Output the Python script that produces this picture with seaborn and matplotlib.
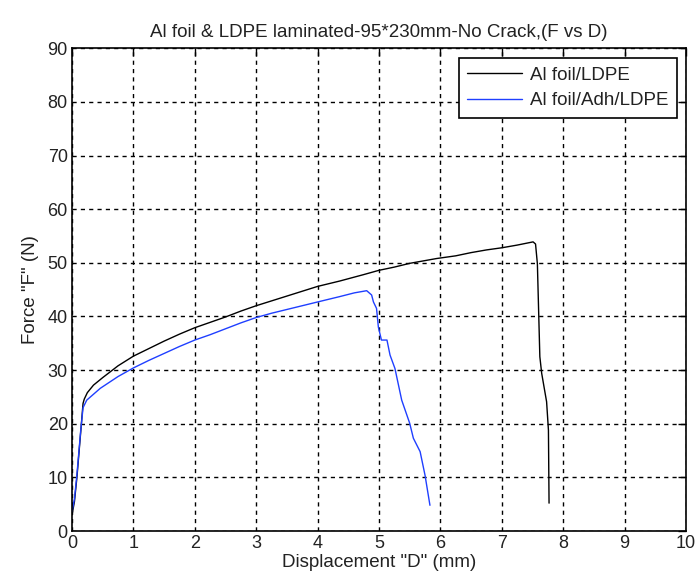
import matplotlib
matplotlib.use("Agg")
import matplotlib.pyplot as plt
import seaborn as sns
import pandas as pd

# Al foil/LDPE (black)
d_ldpe = [0.0, 0.04, 0.08, 0.14, 0.18, 0.2, 0.25, 0.35, 0.5, 0.75, 1.0, 1.25, 1.5, 1.75, 2.0, 2.25, 2.5,
          2.75, 3.0, 3.25, 3.5, 3.75, 4.0, 4.36, 4.75, 5.0, 5.25, 5.5, 5.94, 6.25, 6.5, 6.75, 7.0, 7.25,
          7.51, 7.55, 7.58, 7.62, 7.65, 7.73, 7.76, 7.77]
f_ldpe = [3.0, 5.5, 10.0, 18.2, 23.8, 24.6, 25.8, 27.2, 28.6, 30.8, 32.6, 34.0, 35.4, 36.7, 37.9, 38.9, 39.9,
          41.0, 42.0, 42.9, 43.8, 44.7, 45.6, 46.6, 47.8, 48.6, 49.2, 49.9, 50.8, 51.3, 51.9, 52.4, 52.8, 53.3,
          53.9, 53.5, 49.8, 32.5, 29.4, 24.1, 18.8, 5.2]

# Al foil/Adh/LDPE (blue)
d_adh = [0.0, 0.04, 0.08, 0.14, 0.18, 0.24, 0.46, 0.75, 1.0, 1.25, 1.5, 1.75, 2.0, 2.25, 2.5, 2.75, 3.0,
         3.25, 3.5, 3.75, 4.0, 4.36, 4.6, 4.8, 4.88, 4.91, 4.96, 4.99, 5.04, 5.13, 5.18, 5.26, 5.37, 5.5,
         5.56, 5.67, 5.75, 5.83]
f_adh = [3.6, 6.0, 10.5, 18.5, 23.0, 24.4, 26.6, 28.8, 30.4, 31.8, 33.1, 34.4, 35.6, 36.6, 37.7, 38.8, 39.8,
         40.6, 41.3, 42.0, 42.7, 43.7, 44.4, 44.8, 44.0, 42.7, 41.5, 38.0, 35.6, 35.6, 32.8, 30.3, 24.4, 20.1,
         17.3, 14.8, 10.4, 4.8]

labels = ["Al foil/LDPE", "Al foil/Adh/LDPE"]
x_ticks = list(range(0, 11))
y_ticks = list(range(0, 91, 10))

df = pd.concat([
    pd.DataFrame({"D": d_ldpe, "F": f_ldpe, "series": labels[0]}),
    pd.DataFrame({"D": d_adh, "F": f_adh, "series": labels[1]}),
], ignore_index=True)

sns.set_theme(style="white")
plt.rcParams["font.family"] = ["Liberation Sans", "DejaVu Sans"]

fig = plt.figure(figsize=(6.95, 5.81), dpi=100)
ax = fig.add_axes([0.1036, 0.086, 0.8834, 0.831])

sns.lineplot(data=df, x="D", y="F", hue="series", hue_order=labels,
             palette={labels[0]: "black", labels[1]: "#1f3fff"},
             sort=False, estimator=None, linewidth=1.0, ax=ax)

ax.set_xlim(0, 10)
ax.set_ylim(0, 90)
ax.set_xticks(x_ticks)
ax.set_yticks(y_ticks)
ax.tick_params(axis="both", direction="in", length=6, width=1.0, top=True, right=True,
               labelsize=13, colors="black", pad=3)
ax.tick_params(axis="both", labelcolor="#222222")
for s in ax.spines.values():
    s.set_color("black")
    s.set_linewidth(1.2)
ax.grid(True, color="black", linestyle=(0, (3, 3)), linewidth=1.0)
ax.set_axisbelow(True)

ax.set_xlabel('Displacement "D" (mm)', fontsize=13.5, color="#222222", labelpad=1)
ax.set_ylabel('Force "F" (N)', fontsize=13.5, color="#222222", labelpad=6)
ax.set_title("Al foil & LDPE laminated-95*230mm-No Crack,(F vs D)", fontsize=13.5, color="#222222", pad=8)

leg = ax.legend(loc="upper right", bbox_to_anchor=(0.985, 0.979), borderaxespad=0, fontsize=13.5,
                frameon=True, fancybox=False, edgecolor="black", framealpha=1.0, handlelength=2.95,
                borderpad=0.45, labelspacing=0.45, handletextpad=0.4)
leg.get_frame().set_linewidth(1.2)
for t in leg.get_texts():
    t.set_color("#222222")

fig.savefig("out.png", dpi=100)
